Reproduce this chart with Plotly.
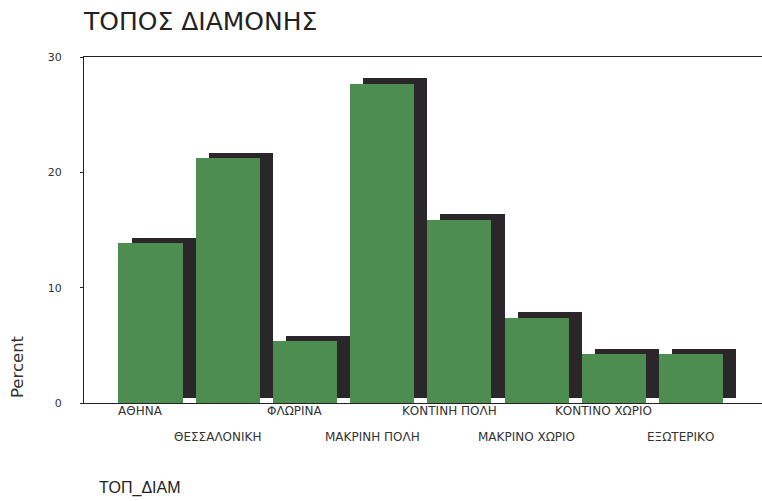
import plotly.graph_objects as go

categories = ["ΑΘΗΝΑ", "ΘΕΣΣΑΛΟΝΙΚΗ", "ΦΛΩΡΙΝΑ", "ΜΑΚΡΙΝΗ ΠΟΛΗ",
              "ΚΟΝΤΙΝΗ ΠΟΛΗ", "ΜΑΚΡΙΝΟ ΧΩΡΙΟ", "ΚΟΝΤΙΝΟ ΧΩΡΙΟ", "ΕΞΩΤΕΡΙΚΟ"]
percent = [13.9, 21.2, 5.4, 27.7, 15.9, 7.4, 4.25, 4.25]
y_ticks = [0, 10, 20, 30]

idx = list(range(len(categories)))
bar_w = 0.83
shadow_dx = 0.17
shadow_dy = 0.45

fig = go.Figure()
# shadow (3D effect)
fig.add_trace(go.Bar(
    x=idx, y=percent, base=[shadow_dy] * len(idx),
    width=bar_w, offset=-bar_w / 2 + shadow_dx,
    marker=dict(color="#2b2629", line=dict(width=0)),
    hoverinfo="skip", showlegend=False))
# front bars
fig.add_trace(go.Bar(
    x=idx, y=percent, width=bar_w, offset=-bar_w / 2,
    marker=dict(color="#4d8e50", line=dict(width=0)),
    showlegend=False, name="Percent"))

annotations = []
for i, c in enumerate(categories):
    annotations.append(dict(
        x=i, y=0, xref="x", yref="paper", text=c, showarrow=False,
        xanchor="center", yanchor="middle", xshift=-10,
        yshift=-8 if i % 2 == 0 else -34,
        font=dict(family="DejaVu Sans", size=12, color="#333")))

annotations += [
    dict(text="ΤΟΠΟΣ ΔΙΑΜΟΝΗΣ", xref="paper", yref="paper", x=0, y=1,
         xanchor="left", yanchor="middle", xshift=-3, yshift=36,
         showarrow=False, font=dict(family="DejaVu Sans", size=25, color="#222")),
    dict(text="Percent", xref="paper", yref="paper", x=0, y=0,
         xanchor="center", yanchor="middle", textangle=-90, xshift=-67, yshift=36,
         showarrow=False, font=dict(family="DejaVu Sans", size=16.5, color="#333")),
    dict(text="ΤΟΠ_ΔΙΑΜ", xref="paper", yref="paper", x=0, y=0,
         xanchor="left", yanchor="middle", xshift=13, yshift=-85,
         showarrow=False, font=dict(family="Liberation Sans", size=16, color="#222")),
]

fig.update_layout(
    width=762, height=501,
    margin=dict(l=84, r=0, t=57, b=98),
    paper_bgcolor="white", plot_bgcolor="white",
    barmode="overlay", bargap=0,
    annotations=annotations,
    xaxis=dict(range=[-0.861, 7.92], showgrid=False, zeroline=False,
               showline=True, linecolor="#222", linewidth=1.2, mirror=True,
               showticklabels=False, ticks=""),
    yaxis=dict(range=[0, 30], tickvals=y_ticks, showgrid=False, zeroline=False,
               showline=True, linecolor="#222", linewidth=1.2,
               ticks="outside", ticklen=3, tickcolor="#222",
               ticklabelstandoff=16,
               tickfont=dict(family="DejaVu Sans", size=11, color="#333")),
)

fig.write_html("out.html")
